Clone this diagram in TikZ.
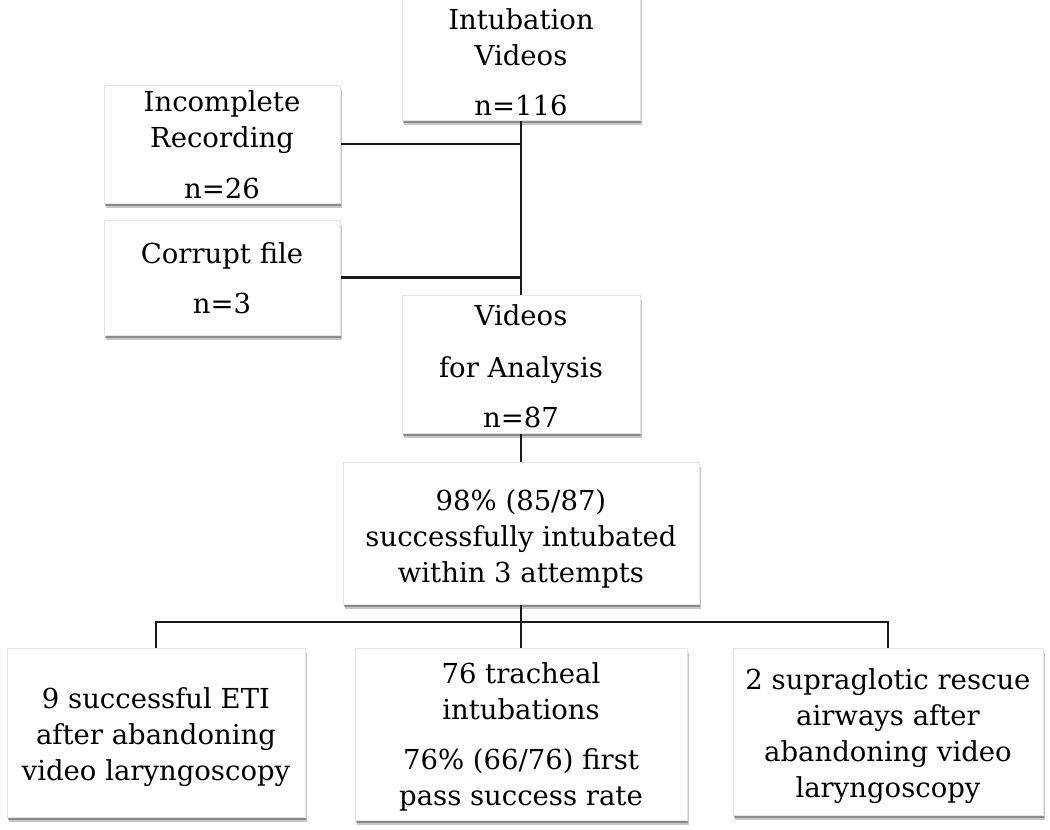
\documentclass[tikz,border=0pt]{standalone}
\usepackage{fontspec}
\setmainfont{DejaVu Serif}
\usetikzlibrary{shadows}
\begin{document}
\begin{tikzpicture}[x=1pt,y=-1pt,
  box/.style={fill=white, draw=black!10, line width=1pt, inner sep=0pt,
    drop shadow={shadow xshift=1.5pt, shadow yshift=-4.5pt, fill=black, opacity=0.22},
    drop shadow={shadow xshift=1pt, shadow yshift=-2.5pt, fill=black, opacity=0.3}},
  txt/.style={align=center, anchor=base, inner sep=0pt, text=black,
    font=\fontsize{27.5}{36}\selectfont},
  conn/.style={line width=2.4pt, black!90}]
\useasboundingbox (0,0) rectangle (1050,830);
\clip (0,0) rectangle (1050,830);
\fill[white] (0,0) rectangle (1050,830);
% boxes
\node[box, minimum width=238pt, minimum height=150pt] (top) at (521,45) {};
\node[box, minimum width=236pt, minimum height=118pt] (inc) at (222,144) {};
\node[box, minimum width=236pt, minimum height=115pt] (cor) at (222,277.5) {};
\node[box, minimum width=238pt, minimum height=138pt] (vid) at (521,364) {};
\node[box, minimum width=356pt, minimum height=142pt] (pct) at (521,533.5) {};
\node[box, minimum width=298pt, minimum height=169pt] (b1) at (156,732.5) {};
\node[box, minimum width=332pt, minimum height=172pt] (b2) at (521,734) {};
\node[box, minimum width=310pt, minimum height=167pt] (b3) at (888,731.5) {};
% texts (anchored at the baseline of the last line)
\node[txt] (topt) at (521,115) {Intubation\\Videos\\[14pt]n=116};
\node[txt] (inct) at (222,198) {Incomplete\\Recording\\[15pt]n=26};
\node[txt] (cort) at (222,313) {Corrupt file\\[14pt]n=3};
\node[txt] (vidt) at (521,427) {Videos\\[16pt]for Analysis\\[14pt]n=87};
\node[txt] (pctt) at (521,582) {98\% (85/87)\\successfully intubated\\within 3 attempts};
\node[txt] (b1t) at (156,780) {9 successful ETI\\after abandoning\\video laryngoscopy};
\node[txt] (b2t) at (521,805) {76 tracheal\\intubations\\[14pt]76\% (66/76) first\\pass success rate};
\node[txt] (b3t) at (888,797) {2 supraglotic rescue\\airways after\\abandoning video\\laryngoscopy};
% connectors
\coordinate (bus) at (521,622);
\draw[conn] (top.south) -- (vid.north);
\draw[conn] (inc.east) -- (inc.east -| top.south);
\draw[conn] (cor.east) -- (cor.east -| top.south);
\draw[conn] (vid.south) -- (pct.north);
\draw[conn] (pct.south) -- (b2.north);
\draw[conn] (b1.north) -- (b1.north |- bus) -- (b3.north |- bus) -- (b3.north);
\end{tikzpicture}
\end{document}
